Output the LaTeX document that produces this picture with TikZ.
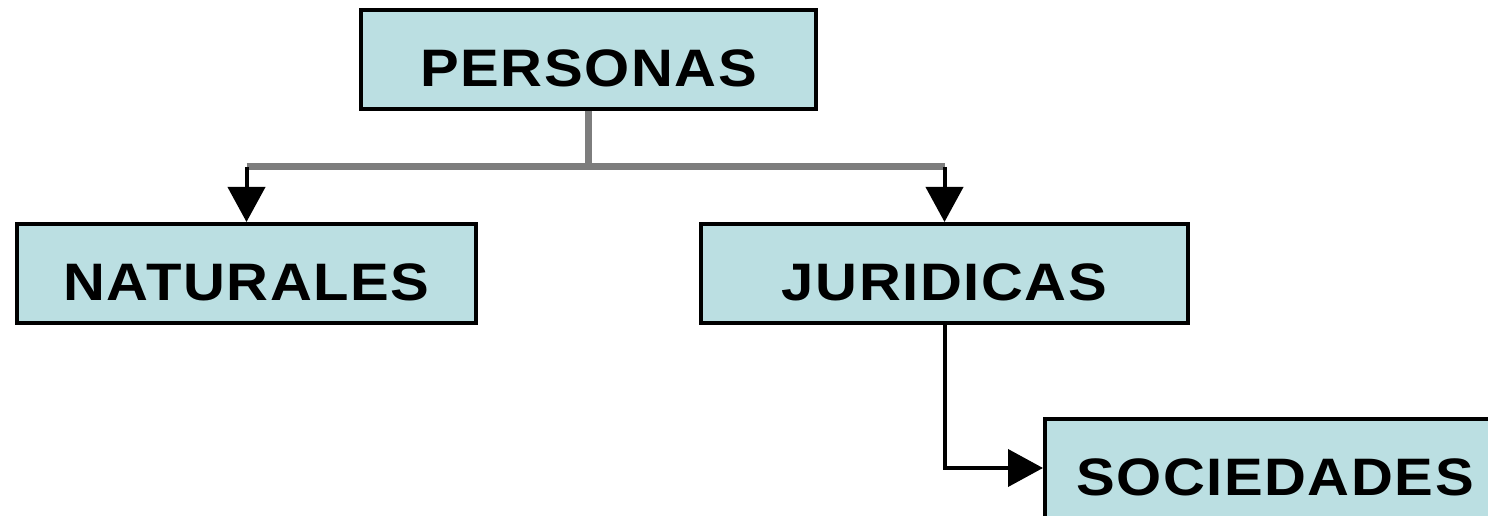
\documentclass[tikz,border=0pt]{standalone}
\usepackage{fontspec}
\newfontfamily\boxfont{Liberation Sans}[FakeStretch=1.1, LetterSpace=3]
\usetikzlibrary{arrows.meta}

\definecolor{boxfill}{RGB}{187,223,226}
\definecolor{treegray}{RGB}{125,125,125}

\begin{document}
\begin{tikzpicture}[
    box/.style={draw=black, line width=0.08cm, fill=boxfill,
      minimum height=1.98cm, text height=1.08cm, text depth=0pt,
      font=\boxfont\bfseries\fontsize{30pt}{36pt}\selectfont},
    tree/.style={draw=treegray, line width=0.14cm},
    link/.style={draw=black, line width=0.08cm,
      -{Triangle[length=0.7cm, width=0.74cm]}}]
    \useasboundingbox (0,0) rectangle (29.76,10.3);
    \clip (0,0) rectangle (29.76,10.3);

    \node[box, minimum width=9.1cm]  (P) at (11.77,9.11) {PERSONAS};
    \node[box, minimum width=9.18cm] (N) at (4.93,4.83)  {NATURALES};
    \node[box, minimum width=9.74cm] (J) at (18.89,4.83) {JURIDICAS};
    \node[box, minimum width=9.2cm]  (S) at (25.5,0.94)  {SOCIEDADES};

    \coordinate (split) at (11.77,6.96);

    \draw[tree] (P.south) -- (P.south |- split);
    \draw[tree] (N.north |- split) -- (J.north |- split);
    \draw[link] (N.north |- split) -- (N.north);
    \draw[link] (J.north |- split) -- (J.north);
    \draw[link] (J.south) |- (S.west);
  \end{tikzpicture}
\end{document}
